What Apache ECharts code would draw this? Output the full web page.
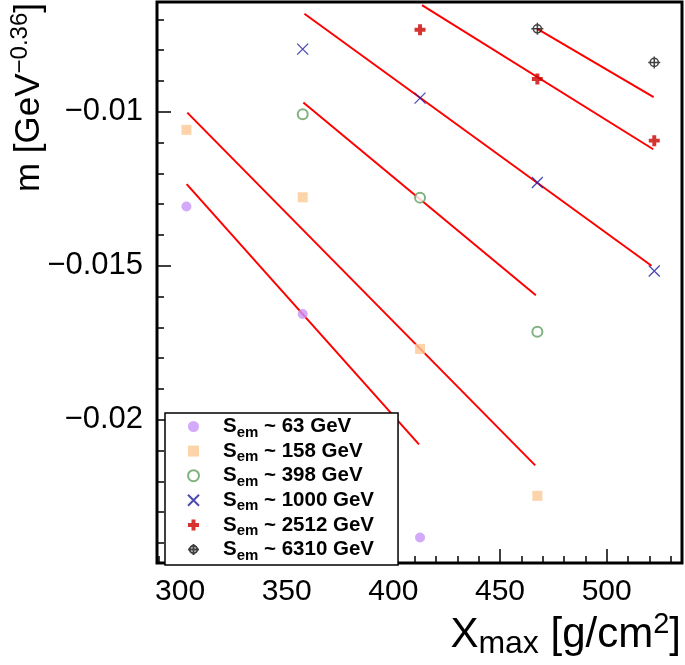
<!DOCTYPE html>
<html><head><meta charset="utf-8">
<script src="https://cdn.jsdelivr.net/npm/echarts@6/dist/echarts.min.js"></script>
<style>html,body{margin:0;padding:0;background:#fff}#c{width:685px;height:665px}</style>
</head><body><div id="c"></div>
<script>
// ---- data ----
const energies = ['63 GeV', '158 GeV', '398 GeV', '1000 GeV', '2512 GeV', '6310 GeV'];

const x63 = [303, 357.5, 412.5];
const m63 = [-0.01308, -0.01657, -0.02382];
const x158 = [303, 357.5, 412.5, 467.5];
const m158 = [-0.01059, -0.01278, -0.01770, -0.02247];
const x398 = [357.5, 412.5, 467.5];
const m398 = [-0.01008, -0.01279, -0.01714];
const x1000 = [357.5, 412.5, 467.5, 522.3];
const m1000 = [-0.00797, -0.00956, -0.01230, -0.01517];
const x2512 = [412.5, 467.5, 522.3];
const m2512 = [-0.00734, -0.00894, -0.01094];
const x6310 = [467.5, 522.3];
const m6310 = [-0.00731, -0.00840];

// fitted lines: [x start, x end], [m start, m end]
const fit63X = [303.1, 412.0],   fit63M = [-0.01235, -0.02080];
const fit158X = [303.4, 466.5],  fit158M = [-0.01003, -0.02148];
const fit398X = [357.8, 466.8],  fit398M = [-0.00970, -0.01596];
const fit1000X = [358.3, 521.0], fit1000M = [-0.00682, -0.01500];
const fit2512X = [413.4, 521.8], fit2512M = [-0.00654, -0.01122];
const fit6310X = [467.5, 522.0], fit6310M = [-0.00731, -0.00953];

const xMajorTicks = [300, 350, 400, 450, 500];
const xMinorTicks = [290, 300, 310, 320, 330, 340, 350, 360, 370, 380, 390, 400, 410, 420, 430, 440, 450, 460, 470, 480, 490, 500, 510, 520, 530];
const yMajorTicks = [-0.02, -0.015, -0.01];
const yMinorTicks = [-0.024, -0.023, -0.022, -0.021, -0.02, -0.019, -0.018, -0.017, -0.016, -0.015, -0.014, -0.013, -0.012, -0.011, -0.01, -0.009, -0.008, -0.007];

// ---- chart ----
const FONT = 'Liberation Sans, Arial, Helvetica, sans-serif';
const zip = (xs, ys) => xs.map((x, i) => [x, ys[i]]);

const markerDefs = [
  { x: x63, m: m63, symbol: 'circle', size: 10, itemStyle: { color: '#c894f7' } },
  { x: x158, m: m158, symbol: 'rect', size: 10, itemStyle: { color: '#fdc895' } },
  { x: x398, m: m398, symbol: 'emptyCircle', size: 10, itemStyle: { color: '#5f9f5f', borderColor: '#5f9f5f', borderWidth: 1.4 } },
  { x: x1000, m: m1000, symbol: 'path://M0,0L10,10M10,0L0,10', size: 11, itemStyle: { color: '#1e1ea0', borderColor: '#1e1ea0', borderWidth: 1.3 } },
  { x: x2512, m: m2512, symbol: 'path://M3.2,0H6.8V3.2H10V6.8H6.8V10H3.2V6.8H0V3.2H3.2Z', size: 11, itemStyle: { color: '#cc0000' } },
  { x: x6310, m: m6310, symbol: 'path://M5,0V10M0,5H10M5,1.6A3.4,3.4 0 1 1 5,8.4A3.4,3.4 0 1 1 5,1.6Z', size: 12, itemStyle: { color: 'rgba(0,0,0,0)', borderColor: '#111', borderWidth: 1.5 } }
];

const fits = [
  [fit63X, fit63M], [fit158X, fit158M], [fit398X, fit398M],
  [fit1000X, fit1000M], [fit2512X, fit2512M], [fit6310X, fit6310M]
];

const series = [];
fits.forEach((f, i) => {
  series.push({
    name: 'fit ' + energies[i], type: 'line', data: zip(f[0], f[1]),
    symbol: 'none', lineStyle: { color: '#ff0000', width: 2 }, z: 3, silent: true
  });
});
markerDefs.forEach((d, i) => {
  series.push({
    name: energies[i], type: 'scatter', data: zip(d.x, d.m),
    symbol: d.symbol, symbolSize: d.size, itemStyle: d.itemStyle, z: 4
  });
});

const tickStyle = { color: '#000', width: 1.5 };
const xRange = { min: 289.2, max: 535.3 };
const yRange = { min: -0.02465, max: -0.00644 };

const option = {
  animation: false,
  backgroundColor: '#fff',
  grid: { left: 157, right: 3, top: 2, bottom: 102, show: true, borderColor: '#000', borderWidth: 3, backgroundColor: 'rgba(0,0,0,0)' },
  xAxis: [
    { type: 'value', ...xRange, position: 'bottom',
      axisLine: { show: false }, splitLine: { show: false },
      axisTick: { show: true, inside: true, length: 14, customValues: xMajorTicks, lineStyle: tickStyle },
      axisLabel: { show: true, customValues: xMajorTicks, margin: 14, fontSize: 30, color: '#000', fontFamily: FONT } },
    { type: 'value', ...xRange, position: 'bottom',
      axisLine: { show: false }, splitLine: { show: false },
      axisTick: { show: true, inside: true, length: 7, customValues: xMinorTicks, lineStyle: tickStyle },
      axisLabel: { show: false } }
  ],
  yAxis: [
    { type: 'value', ...yRange, position: 'left',
      axisLine: { show: false }, splitLine: { show: false },
      axisTick: { show: true, inside: true, length: 14, customValues: yMajorTicks, lineStyle: tickStyle },
      axisLabel: { show: true, customValues: yMajorTicks, margin: 14, fontSize: 31, color: '#000', fontFamily: FONT,
        formatter: v => (v < 0 ? '\u2212' : '') + String(Math.abs(v)) } },
    { type: 'value', ...yRange, position: 'left',
      axisLine: { show: false }, splitLine: { show: false },
      axisTick: { show: true, inside: true, length: 7, customValues: yMinorTicks, lineStyle: tickStyle },
      axisLabel: { show: false } }
  ],
  legend: {
    orient: 'vertical', left: 165, top: 413,
    padding: [0, 24, 2, 22], itemWidth: 11, itemHeight: 11, itemGap: -2.4,
    backgroundColor: '#fff', borderColor: '#000', borderWidth: 1.5,
    selectedMode: false, data: energies, z: 10,
    formatter: n => '{s|S}{sub|em}{t| ~ ' + n + '}',
    textStyle: {
      color: '#000', fontFamily: FONT, fontWeight: 'bold', fontSize: 20.5, lineHeight: 20, padding: [0, 0, 0, 19],
      rich: {
        s: { fontFamily: FONT, fontWeight: 'bold', fontSize: 20.5, lineHeight: 20, color: '#000' },
        sub: { fontFamily: FONT, fontWeight: 'bold', fontSize: 15, lineHeight: 20, padding: [12, 0, 0, 0], color: '#000' },
        t: { fontFamily: FONT, fontWeight: 'bold', fontSize: 20.5, lineHeight: 20, color: '#000' }
      }
    }
  },
  graphic: [
    { type: 'text', right: 4, top: 610, z: 20,
      style: { text: '{n|X}{sub|max}{n| [g/cm}{sup|2}{n|]}', fill: '#000',
        rich: {
          n: { fontFamily: FONT, fontSize: 42, lineHeight: 46 },
          sub: { fontFamily: FONT, fontSize: 32, lineHeight: 46, padding: [18, 0, 0, 0] },
          sup: { fontFamily: FONT, fontSize: 29, lineHeight: 46, padding: [0, 0, 20, 0] }
        } } },
    { type: 'text', left: 8, top: 3, rotation: Math.PI / 2, z: 20,
      style: { text: '{n|m [GeV}{sup|\u22120.36}{n|]}', fill: '#000',
        rich: {
          n: { fontFamily: FONT, fontSize: 35, lineHeight: 40 },
          sup: { fontFamily: FONT, fontSize: 24, lineHeight: 40, padding: [0, 0, 18, 0] }
        } } }
  ],
  series: series
};

const chart = echarts.init(document.getElementById('c'), null, { renderer: 'canvas' });
chart.setOption(option);
</script>
</body></html>
